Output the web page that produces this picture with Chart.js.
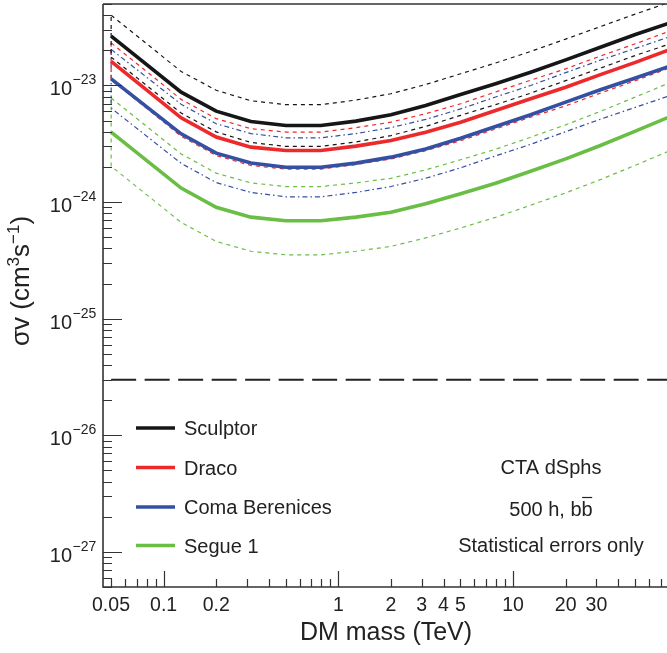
<!DOCTYPE html>
<html><head><meta charset="utf-8">
<script src="https://cdn.jsdelivr.net/npm/chart.js@4.4.1/dist/chart.umd.min.js"></script>
<style>html,body{margin:0;padding:0;background:#fff}canvas{display:block}</style>
</head><body>
<canvas id="c" width="667" height="653"></canvas>
<script>
// ---- data (DM mass in TeV, <sigma v> in cm^3 s^-1) ----
const massTeV = [0.0501, 0.126, 0.2, 0.316, 0.501, 0.794, 1.26, 2.0, 3.16, 5.01, 7.94, 12.6, 20.0, 31.6, 50.1, 79.4];

const sculptor   = [2.65e-23, 8.77e-24, 6.02e-24, 4.91e-24, 4.54e-24, 4.54e-24, 4.95e-24, 5.61e-24, 6.74e-24, 8.37e-24, 1.035e-23, 1.30e-23, 1.66e-23, 2.13e-23, 2.74e-23, 3.45e-23];
const sculptorUp = [4.0e-23, 1.32e-23, 9.1e-24, 7.4e-24, 6.85e-24, 6.85e-24, 7.5e-24, 8.5e-24, 1.02e-23, 1.26e-23, 1.56e-23, 1.96e-23, 2.5e-23, 3.2e-23, 4.1e-23, 5.2e-23];
const sculptorLo = [1.75e-23, 5.8e-24, 4.0e-24, 3.25e-24, 3.0e-24, 3.0e-24, 3.28e-24, 3.72e-24, 4.46e-24, 5.55e-24, 6.85e-24, 8.6e-24, 1.1e-23, 1.41e-23, 1.81e-23, 2.28e-23];

const draco   = [1.61e-23, 5.28e-24, 3.61e-24, 2.96e-24, 2.77e-24, 2.77e-24, 3.02e-24, 3.37e-24, 3.98e-24, 4.84e-24, 6.1e-24, 7.7e-24, 9.67e-24, 1.24e-23, 1.58e-23, 2.04e-23];
const dracoUp = [2.32e-23, 7.6e-24, 5.2e-24, 4.26e-24, 3.99e-24, 3.99e-24, 4.35e-24, 4.85e-24, 5.73e-24, 6.97e-24, 8.8e-24, 1.11e-23, 1.39e-23, 1.79e-23, 2.28e-23, 2.94e-23];
const dracoLo = [1.12e-23, 3.67e-24, 2.51e-24, 2.06e-24, 1.92e-24, 1.92e-24, 2.1e-24, 2.34e-24, 2.76e-24, 3.36e-24, 4.24e-24, 5.35e-24, 6.7e-24, 8.6e-24, 1.1e-23, 1.42e-23];

const coma   = [1.14e-23, 3.85e-24, 2.63e-24, 2.16e-24, 1.99e-24, 1.99e-24, 2.16e-24, 2.43e-24, 2.86e-24, 3.53e-24, 4.45e-24, 5.61e-24, 7.2e-24, 9.2e-24, 1.16e-23, 1.47e-23];
const comaUp = [2.04e-23, 6.9e-24, 4.7e-24, 3.87e-24, 3.56e-24, 3.56e-24, 3.87e-24, 4.35e-24, 5.12e-24, 6.3e-24, 7.97e-24, 1.0e-23, 1.29e-23, 1.65e-23, 2.08e-23, 2.63e-23];
const comaLo = [6.4e-24, 2.15e-24, 1.47e-24, 1.21e-24, 1.11e-24, 1.11e-24, 1.21e-24, 1.36e-24, 1.6e-24, 1.97e-24, 2.49e-24, 3.13e-24, 4.02e-24, 5.14e-24, 6.5e-24, 8.2e-24];

const segue   = [3.98e-24, 1.32e-24, 9.04e-25, 7.43e-25, 6.92e-25, 6.92e-25, 7.43e-25, 8.18e-25, 9.66e-25, 1.18e-24, 1.45e-24, 1.84e-24, 2.35e-24, 3.06e-24, 4.06e-24, 5.42e-24];
const segueUp = [7.8e-24, 2.59e-24, 1.77e-24, 1.46e-24, 1.36e-24, 1.36e-24, 1.46e-24, 1.6e-24, 1.89e-24, 2.31e-24, 2.84e-24, 3.6e-24, 4.6e-24, 6.0e-24, 7.96e-24, 1.06e-23];
const segueLo = [2.03e-24, 6.7e-25, 4.6e-25, 3.79e-25, 3.53e-25, 3.53e-25, 3.79e-25, 4.17e-25, 4.93e-25, 6.0e-25, 7.4e-25, 9.4e-25, 1.2e-24, 1.56e-24, 2.07e-24, 2.77e-24];

const thermalRelicMass = [0.0501, 79.4];
const thermalRelic = [3e-26, 3e-26];

const sourceNames = ['Sculptor', 'Draco', 'Coma Berenices', 'Segue 1'];
const xTickLabels = [0.05, 0.1, 0.2, 1, 2, 3, 4, 5, 10, 20, 30];
const yDecadeExponents = [-27, -26, -25, -24, -23];
const infoLines = ['CTA dSphs', '500 h, b', 'Statistical errors only'];

// ---- styles ----
const colBlack = '#161616', colRed = '#ec2a2c', colBlue = '#3350a2', colGreen = '#6abd45';
const FONT = '"Liberation Sans", Arial, Helvetica, sans-serif';

function pts(xs, ys) { return ys.map((v, i) => ({ x: xs[i], y: v })); }
function bandPts(up, lo) {
  const a = pts(massTeV, up);
  const b = pts(massTeV, lo).reverse();
  return a.concat(b, [a[0]]);
}
function solid(label, ys, color) {
  return { label, data: pts(massTeV, ys), borderColor: color, borderWidth: 3.6, showLine: true,
           pointRadius: 0, fill: false, tension: 0, clip: 0 };
}
function band(ys1, ys2, color, dash) {
  return { label: '', data: bandPts(ys1, ys2), borderColor: color, borderWidth: 1.2, borderDash: dash,
           showLine: true, pointRadius: 0, fill: false, tension: 0, clip: 0 };
}

const datasets = [
  solid(sourceNames[0], sculptor, colBlack),
  solid(sourceNames[1], draco, colRed),
  solid(sourceNames[2], coma, colBlue),
  solid(sourceNames[3], segue, colGreen),
  band(sculptorUp, sculptorLo, colBlack, [4, 4]),
  band(dracoUp, dracoLo, colRed, [4, 4]),
  band(comaUp, comaLo, colBlue, [5, 3, 1.5, 3]),
  band(segueUp, segueLo, colGreen, [4, 4]),
  { label: 'relic', data: pts(thermalRelicMass, thermalRelic), borderColor: '#222', borderWidth: 2,
    borderDash: [25, 8.5], showLine: true, pointRadius: 0, fill: false, clip: 0 }
];

const framePlugin = {
  id: 'frame',
  afterDraw(chart) {
    const ctx = chart.ctx, ca = chart.chartArea;
    const xs = chart.scales.x, ys = chart.scales.y;
    ctx.save();
    ctx.strokeStyle = '#333';
    ctx.lineWidth = 1.6;
    ctx.beginPath();
    ctx.moveTo(ca.left, ca.top); ctx.lineTo(ca.left, ca.bottom); ctx.lineTo(ca.right, ca.bottom);
    ctx.moveTo(ca.left, ca.top); ctx.lineTo(ca.right, ca.top);
    ctx.stroke();
    // ticks
    ctx.lineWidth = 1.2;
    ctx.beginPath();
    for (let e = -28; e <= -22; e++) {
      for (let k = 1; k <= 9; k++) {
        const v = k * Math.pow(10, e);
        if (v < ys.min || v > ys.max) continue;
        const y = Math.round(ys.getPixelForValue(v)) + 0.5;
        const len = k === 1 ? 19 : 9;
        ctx.moveTo(ca.left, y); ctx.lineTo(ca.left + len, y);
      }
    }
    for (let e = -2; e <= 2; e++) {
      for (let k = 1; k <= 9; k++) {
        const v = k * Math.pow(10, e);
        if (v < xs.min || v > xs.max) continue;
        const x = Math.round(xs.getPixelForValue(v)) + 0.5;
        const len = k === 1 ? 16 : 8;
        ctx.moveTo(x, ca.bottom); ctx.lineTo(x, ca.bottom - len);
      }
    }
    ctx.stroke();
    // y tick labels 10^n
    ctx.fillStyle = '#222';
    yDecadeExponents.forEach(e => {
      const y = ys.getPixelForValue(Math.pow(10, e));
      ctx.font = '20px ' + FONT;
      ctx.textAlign = 'right'; ctx.textBaseline = 'alphabetic';
      ctx.fillText('10', 72, y + 10);
      ctx.font = '14px ' + FONT;
      ctx.textAlign = 'left';
      ctx.fillText('\u2212' + Math.abs(e), 72.5, y - 1);
    });
    // y title
    ctx.save();
    ctx.translate(29, 281);
    ctx.rotate(-Math.PI / 2);
    const parts = [['\u03c3v (cm', 26, 0], ['3', 17, -10], ['s', 26, 0], ['\u22121', 17, -10], [')', 26, 0]];
    let total = 0;
    parts.forEach(p => { ctx.font = p[1] + 'px ' + FONT; total += ctx.measureText(p[0]).width; });
    let cx = -total / 2;
    ctx.textAlign = 'left'; ctx.textBaseline = 'alphabetic';
    parts.forEach(p => { ctx.font = p[1] + 'px ' + FONT; ctx.fillText(p[0], cx, p[2]); cx += ctx.measureText(p[0]).width; });
    ctx.restore();
    // x title
    ctx.font = '25px ' + FONT;
    ctx.textAlign = 'center'; ctx.textBaseline = 'alphabetic';
    ctx.fillText('DM mass (TeV)', (ca.left + ca.right) / 2 + 1, 640);
    // legend
    const legCols = [colBlack, colRed, colBlue, colGreen];
    const legY = [428, 467.5, 507, 545.5];
    ctx.font = '20px ' + FONT;
    ctx.textAlign = 'left'; ctx.textBaseline = 'alphabetic';
    sourceNames.forEach((n, i) => {
      ctx.strokeStyle = legCols[i]; ctx.lineWidth = 3.5; ctx.setLineDash([]);
      ctx.beginPath(); ctx.moveTo(136, legY[i]); ctx.lineTo(175, legY[i]); ctx.stroke();
      ctx.fillStyle = '#222';
      ctx.fillText(n, 184, legY[i] + 7);
    });
    // info text
    const cxT = 551;
    ctx.textAlign = 'center';
    ctx.fillText(infoLines[0], cxT, 474);
    const w1 = ctx.measureText(infoLines[1]).width, w2 = ctx.measureText('b').width;
    const x0 = cxT - (w1 + w2) / 2;
    ctx.textAlign = 'left';
    ctx.fillText(infoLines[1], x0, 516);
    ctx.fillText('b', x0 + w1, 516);
    ctx.strokeStyle = '#222'; ctx.lineWidth = 1.2;
    ctx.beginPath(); ctx.moveTo(x0 + w1 + 0.5, 497.5); ctx.lineTo(x0 + w1 + w2 - 0.5, 497.5); ctx.stroke();
    ctx.textAlign = 'center';
    ctx.fillText(infoLines[2], cxT, 552);
    ctx.restore();
  }
};

new Chart(document.getElementById('c'), {
  type: 'scatter',
  data: { datasets },
  options: {
    responsive: false,
    animation: false,
    devicePixelRatio: 1,
    layout: { padding: { top: 4, left: 0, right: 0, bottom: 0 } },
    plugins: { legend: { display: false }, tooltip: { enabled: false } },
    scales: {
      x: {
        type: 'logarithmic', min: 0.045, max: 76,
        grid: { display: false, drawTicks: false }, border: { display: false },
        afterBuildTicks: s => { s.ticks = xTickLabels.map(v => ({ value: v })); },
        afterFit: s => { s.height = 66; },
        ticks: { autoSkip: false, maxRotation: 0, padding: 7, color: '#222',
                 font: { size: 19.5, family: FONT },
                 callback: v => String(v) }
      },
      y: {
        type: 'logarithmic', min: 5e-28, max: 5e-23,
        grid: { display: false }, border: { display: false },
        ticks: { display: false },
        afterFit: s => { s.width = 103; }
      }
    }
  },
  plugins: [framePlugin]
});
</script>
</body></html>
